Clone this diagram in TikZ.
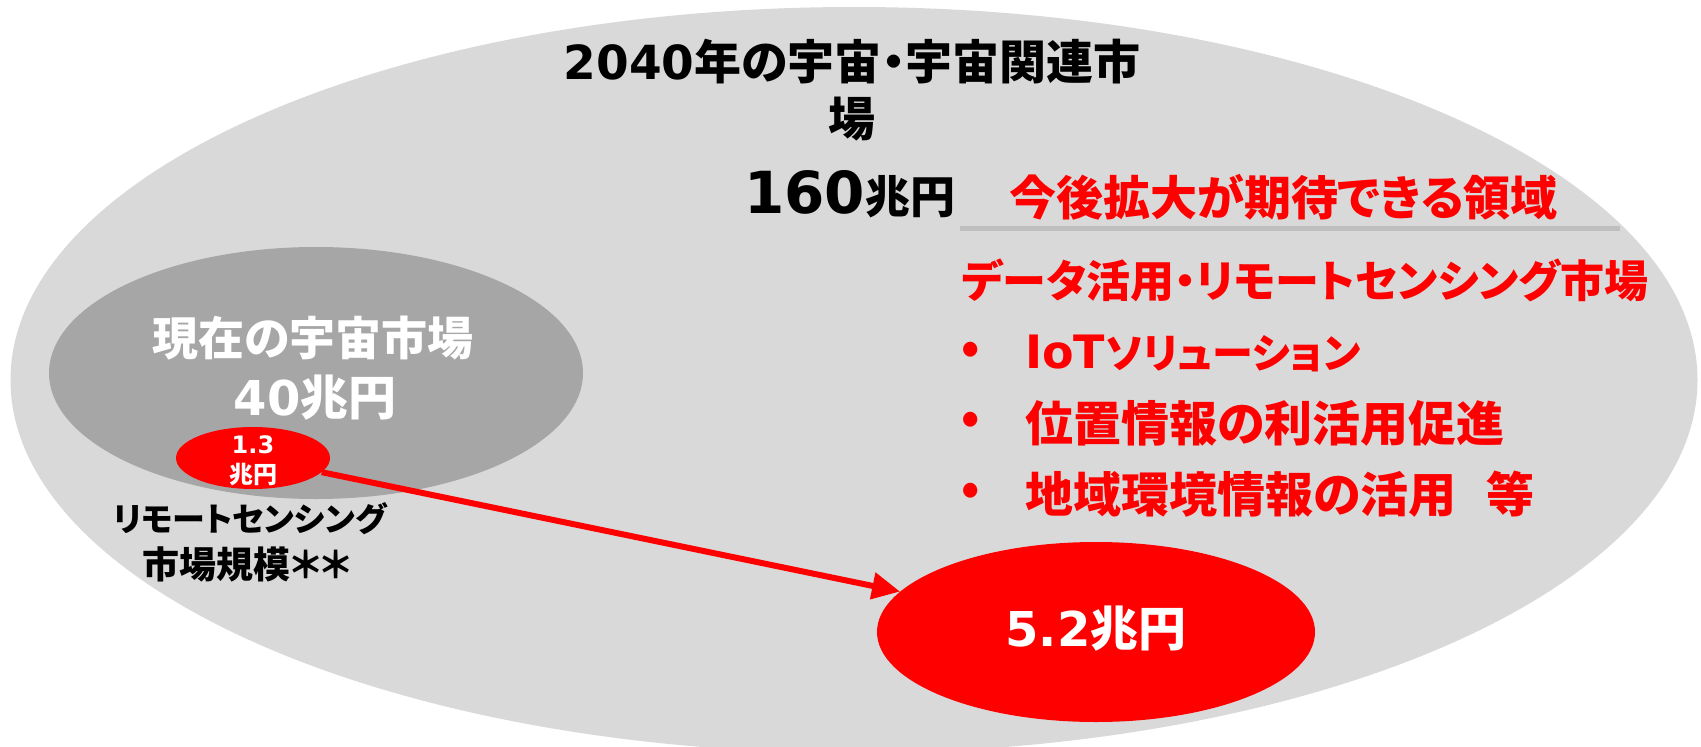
\documentclass[tikz,border=0pt]{standalone}
\usepackage{fontspec}
\setmainfont{Noto Sans CJK JP}[RawFeature=+palt]
\newfontfamily\vdfont{DejaVu Sans}
\newcommand{\vd}[1]{{\vdfont\bfseries #1}}
\usetikzlibrary{shapes.geometric,arrows.meta}
\definecolor{outerg}{HTML}{D9D9D9}
\definecolor{innerg}{HTML}{A6A6A6}
\definecolor{rulegray}{HTML}{BFBFBF}
\definecolor{jred}{HTML}{FF0000}
\begin{document}
\begin{tikzpicture}[x=1pt,y=-1pt,
  fs/.style={font=\bfseries\fontsize{#1}{#1}\selectfont, inner sep=0pt},
  blob/.style={ellipse, inner sep=0pt, draw=none},
  redtxt/.style={text=jred},
  whitetxt/.style={text=white}]
\useasboundingbox (0,0) rectangle (1701,747);
\fill[white] (0,0) rectangle (1701,747);
% ellipses
\node[blob, fill=outerg, minimum width=1687pt, minimum height=746pt] (outer) at (854,380) {};
\node[blob, fill=innerg, minimum width=534pt, minimum height=252pt] (current) at (316,373) {};
\node[blob, fill=jred, minimum width=154pt, minimum height=62pt] (small) at (253,458) {};
\node[blob, fill=jred, minimum width=438pt, minimum height=180pt] (big) at (1096,632) {};
\draw[jred, line width=6pt, -{Triangle[length=28pt,width=26pt]}] (small) -- (big);
% titles
\node[fs=47] (t1) at (852,62) {\vd{2040}年の宇宙・宇宙関連市};
\node[fs=47] (t2) at (852,119) {場};
\node[fs=58, anchor=base west] (t3) at (744,213) {\vd{160}{\fontsize{45}{45}\selectfont 兆円}};
\node[fs=47, redtxt, anchor=west] (h1) at (1009,197) {今後拡大が期待できる領域};
\coordinate (r1) at (960,228);
\coordinate (r2) at (1620,228);
\draw[rulegray, line width=5pt] (r1) -- (r2);
\node[fs=44, redtxt, anchor=west] (h2) at (962,280) {データ活用・リモートセンシング市場};
\node[fs=46, redtxt] (b1) at (971,353) {•};
\node[fs=46, redtxt, anchor=west] (l1) at (1025,353) {\vd{IoT}{\fontsize{41}{41}\selectfont ソリューション}};
\node[fs=46, redtxt] (b2) at (971,423) {•};
\node[fs=48, redtxt, anchor=west] (l2) at (1025,423) {位置情報の利活用促進};
\node[fs=46, redtxt] (b3) at (971,494) {•};
\node[fs=48, redtxt, anchor=west] (l3) at (1025,494) {地域環境情報の活用\hspace{30pt}等};
% current market
\node[fs=46, whitetxt] (c1) at (313,338) {現在の宇宙市場};
\node[fs=48, whitetxt] (c2) at (315,398) {\vd{40}兆円};
\node[fs=24, whitetxt] (s1) at (253,445) {\vd{1.3}};
\node[fs=24, whitetxt] (s2) at (253,475) {兆円};
\node[fs=33] (rs1) at (250,519) {リモートセンシング};
\node[fs=37] (rs2) at (247,564) {市場規模＊＊};
\node[fs=48, whitetxt] (bg) at (1096,629) {\vd{5.2}兆円};
\end{tikzpicture}
\end{document}
